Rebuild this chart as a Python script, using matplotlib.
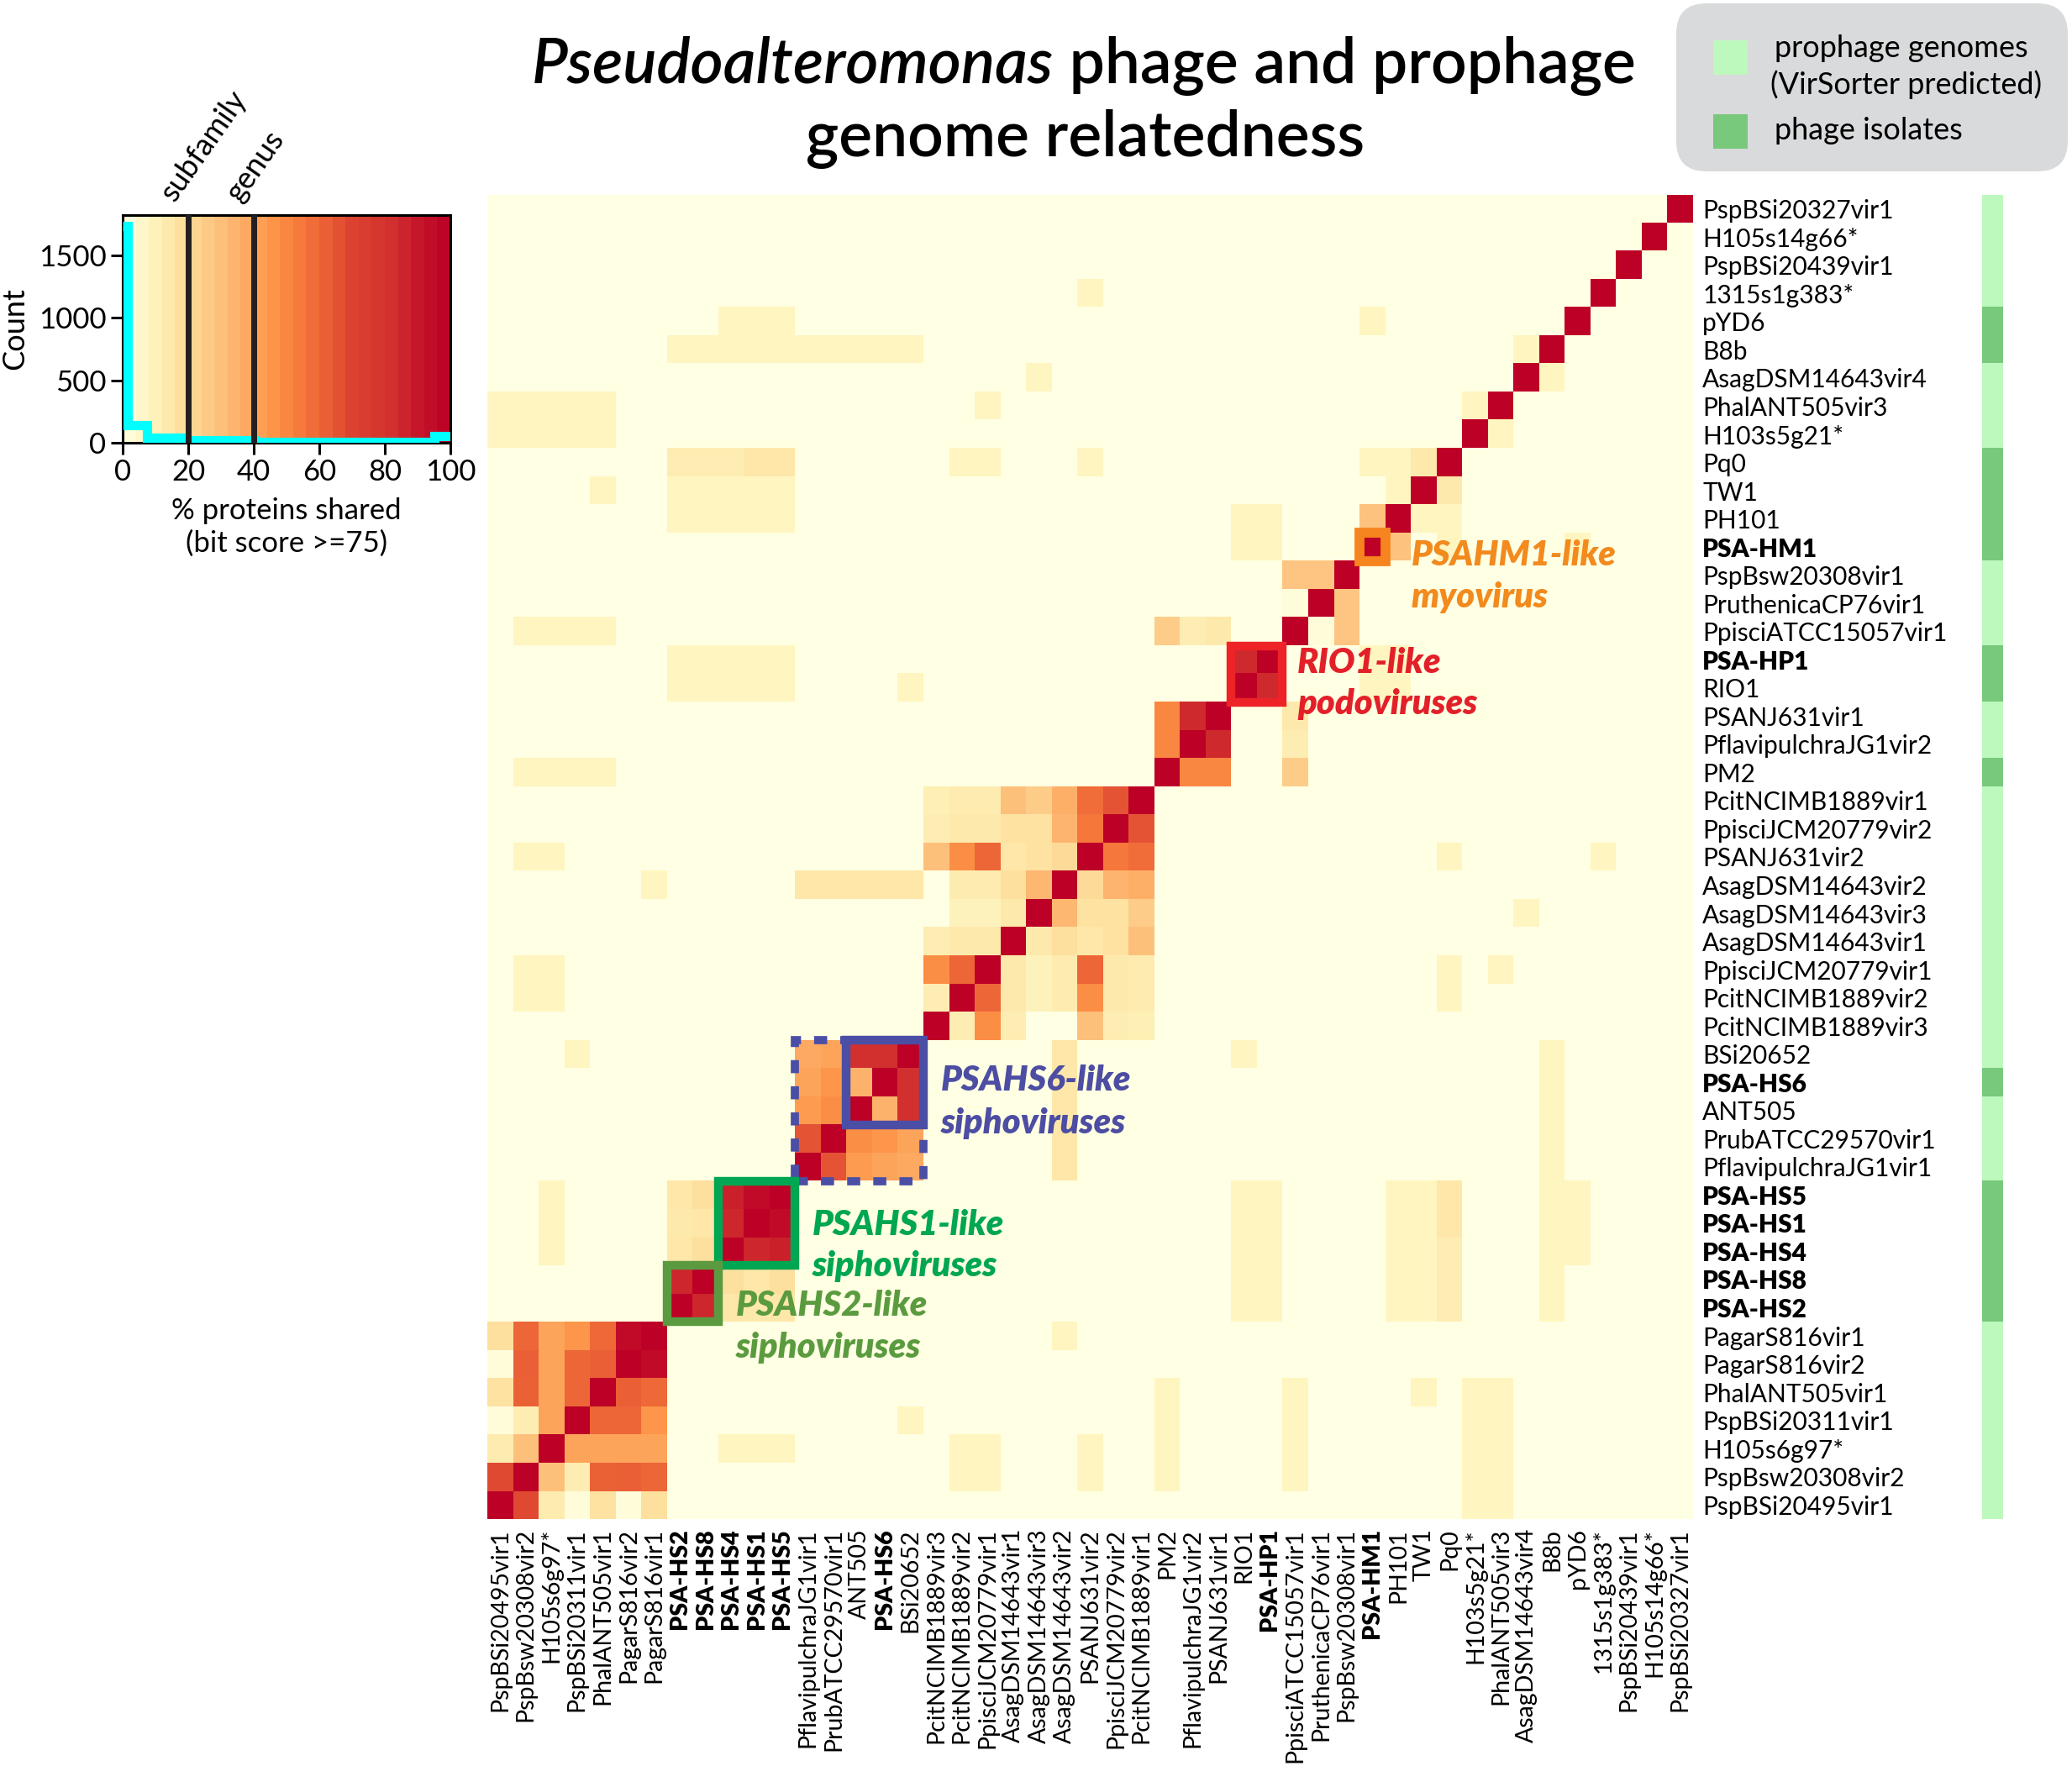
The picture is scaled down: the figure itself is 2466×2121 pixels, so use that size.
import numpy as np
import matplotlib
matplotlib.use("Agg")
import matplotlib.pyplot as plt
from matplotlib.colors import LinearSegmentedColormap, ListedColormap
from matplotlib.patches import Rectangle, FancyBboxPatch

plt.rcParams['font.family'] = ['Lato', 'DejaVu Sans']

# ---------------- data ----------------
# genome order = column order (left -> right) = row order (bottom -> top)
genomes = [
    "PspBSi20495vir1", "PspBsw20308vir2", "H105s6g97*", "PspBSi20311vir1",
    "PhalANT505vir1", "PagarS816vir2", "PagarS816vir1", "PSA-HS2", "PSA-HS8",
    "PSA-HS4", "PSA-HS1", "PSA-HS5", "PflavipulchraJG1vir1", "PrubATCC29570vir1",
    "ANT505", "PSA-HS6", "BSi20652", "PcitNCIMB1889vir3", "PcitNCIMB1889vir2",
    "PpisciJCM20779vir1", "AsagDSM14643vir1", "AsagDSM14643vir3",
    "AsagDSM14643vir2", "PSANJ631vir2", "PpisciJCM20779vir2", "PcitNCIMB1889vir1",
    "PM2", "PflavipulchraJG1vir2", "PSANJ631vir1", "RIO1", "PSA-HP1",
    "PpisciATCC15057vir1", "PruthenicaCP76vir1", "PspBsw20308vir1", "PSA-HM1",
    "PH101", "TW1", "Pq0", "H103s5g21*", "PhalANT505vir3", "AsagDSM14643vir4",
    "B8b", "pYD6", "1315s1g383*", "PspBSi20439vir1", "H105s14g66*",
    "PspBSi20327vir1",
]
bold_genomes = ["PSA-HS2", "PSA-HS8", "PSA-HS4", "PSA-HS1", "PSA-HS5",
                "PSA-HS6", "PSA-HP1", "PSA-HM1"]
isolate_genomes = ["PSA-HS2", "PSA-HS8", "PSA-HS4", "PSA-HS1", "PSA-HS5",
                   "PSA-HS6", "PM2", "RIO1", "PSA-HP1", "PSA-HM1", "PH101",
                   "TW1", "Pq0", "B8b", "pYD6"]

# % proteins shared between genome pairs (indices into `genomes`)
prophage_pairs_a = [  # PspBSi20495vir1 ... PagarS816vir1 cluster
    (0, 1, 68), (0, 2, 13), (0, 3, 2), (0, 4, 17), (0, 5, 2), (0, 6, 18),
    (1, 2, 30), (1, 3, 12), (1, 4, 61), (1, 5, 62), (1, 6, 60),
    (2, 3, 40), (2, 4, 40), (2, 5, 40), (2, 6, 40),
    (3, 4, 60), (3, 5, 60), (3, 6, 45),
    (4, 5, 62), (4, 6, 59), (5, 6, 95),
]
hs1_hs2_pairs = [
    (7, 8, 85), (7, 9, 15), (7, 10, 14), (7, 11, 15), (8, 9, 18), (8, 10, 15),
    (8, 11, 18), (9, 10, 85), (9, 11, 87), (10, 11, 95),
]
hs6_pairs = [
    (12, 13, 65), (12, 14, 43), (12, 15, 40), (12, 16, 38), (13, 14, 48),
    (13, 15, 45), (13, 16, 40), (14, 15, 35), (14, 16, 82), (15, 16, 82),
]
prophage_pairs_b = [  # PcitNCIMB1889vir3 ... PcitNCIMB1889vir1 cluster
    (17, 18, 12), (17, 19, 48), (17, 20, 12), (17, 21, 0), (17, 22, 0),
    (17, 23, 30), (17, 24, 12), (17, 25, 11),
    (18, 19, 60), (18, 20, 14), (18, 21, 9), (18, 22, 13), (18, 23, 48),
    (18, 24, 14), (18, 25, 13),
    (19, 20, 14), (19, 21, 9), (19, 22, 13), (19, 23, 60), (19, 24, 14),
    (19, 25, 13),
    (20, 21, 14), (20, 22, 18), (20, 23, 15), (20, 24, 17), (20, 25, 30),
    (21, 22, 33), (21, 23, 17), (21, 24, 17), (21, 25, 25),
    (22, 23, 20), (22, 24, 34), (22, 25, 36),
    (23, 24, 55), (23, 25, 58), (24, 25, 65),
]
podo_myo_pairs = [
    (26, 27, 50), (26, 28, 50), (27, 28, 84), (29, 30, 84),
    (26, 31, 25), (27, 31, 12), (28, 31, 14),
    (31, 32, 2), (31, 33, 28), (32, 33, 28),
    (34, 35, 29), (36, 37, 14),
    (7, 37, 12), (8, 37, 12), (9, 37, 12), (10, 37, 15), (11, 37, 15),
    (12, 22, 15), (13, 22, 15), (14, 22, 15), (15, 22, 15), (16, 22, 15),
]
# weak links (~8 % shared): genome -> partner genomes
weak_links = {
    38: [0, 1, 2, 3, 4, 39],
    39: [0, 1, 2, 3, 4, 19],
    41: [7, 8, 9, 10, 11, 12, 13, 14, 15, 16, 40],
    42: [9, 10, 11, 34],
    40: [21],
    43: [23],
    37: [18, 19, 23, 34, 35],
    36: [4, 7, 8, 9, 10, 11, 35],
    35: [7, 8, 9, 10, 11, 29, 30],
    34: [29, 30],
    30: [7, 8, 9, 10, 11],
    29: [7, 8, 9, 10, 11, 16],
    31: [1, 2, 3, 4],
    26: [1, 2, 3, 4],
    23: [1, 2],
    19: [1, 2],
    18: [1, 2],
    22: [6],
    16: [3],
    2: [9, 10, 11],
}
weak_value = 8

# inset histogram of pairwise values
hist_edges = [0, 1.5, 7.5, 18, 40, 95, 100]
hist_counts = [1730, 140, 40, 20, 10, 52]
thresholds = [20, 40]
threshold_names = ["subfamily", "genus"]

# ---------------- matrix ----------------
n = len(genomes)
S = np.zeros((n, n))
np.fill_diagonal(S, 100)
for grp in (prophage_pairs_a, hs1_hs2_pairs, hs6_pairs, prophage_pairs_b, podo_myo_pairs):
    for a, b, v in grp:
        S[a, b] = S[b, a] = v
for a, partners in weak_links.items():
    for b in partners:
        S[a, b] = S[b, a] = weak_value

cmap = LinearSegmentedColormap.from_list("share", [
    (0.00, '#ffffe3'), (0.08, '#fff5c0'), (0.15, '#fee7a8'), (0.22, '#fdd592'),
    (0.30, '#fdc07b'), (0.38, '#fdaa62'), (0.46, '#fd9448'), (0.54, '#f77b3c'),
    (0.62, '#ea5f36'), (0.70, '#dc4431'), (0.82, '#d2302e'), (0.92, '#c4122a'),
    (1.00, '#bd0026')])

# ---------------- figure ----------------
W, H = 2466, 2121
fig = plt.figure(figsize=(W / 100, H / 100), dpi=100)
fig.patch.set_facecolor('white')

def fx(px):
    return px / W

def fy(py):
    return 1 - py / H

L, R, T, B = 580, 2015, 232, 1808
ax = fig.add_axes([fx(L), fy(B), (R - L) / W, (B - T) / H])
ax.imshow(S, origin='lower', cmap=cmap, vmin=0, vmax=100, aspect='auto',
          interpolation='nearest', extent=(-0.5, n - 0.5, -0.5, n - 0.5))
ax.set_xlim(-0.5, n - 0.5)
ax.set_ylim(-0.5, n - 0.5)
for s in ax.spines.values():
    s.set_visible(False)
ax.set_xticks(range(n))
ax.set_xticklabels(genomes, rotation=90, fontsize=20.5)
ax.yaxis.tick_right()
ax.set_yticks(range(n))
ax.set_yticklabels(genomes, fontsize=21.5)
ax.tick_params(length=0, pad=8)
for lbl in ax.get_xticklabels() + ax.get_yticklabels():
    if lbl.get_text() in bold_genomes:
        lbl.set_fontweight('heavy')

# cluster boxes
def box(i0, size, color, lw=7.5, ls='-'):
    ax.add_patch(Rectangle((i0 - 0.5, i0 - 0.5), size, size, fill=False,
                           edgecolor=color, lw=lw, linestyle=ls, zorder=5,
                           clip_on=False))

box(genomes.index("PSA-HM1"), 1, '#f7851f', lw=8.5)
box(genomes.index("RIO1"), 2, '#ee2328')
box(genomes.index("PflavipulchraJG1vir1"), 5, '#4b4ea5', lw=7, ls=(0, (1.6, 1.6)))
box(genomes.index("ANT505"), 3, '#4b4ea5')
box(genomes.index("PSA-HS4"), 3, '#00a651')
box(genomes.index("PSA-HS2"), 2, '#5b9a41')

def px2data(X, Y):
    return (X - L) / ((R - L) / n) - 0.5, n - 0.5 - (Y - T) / ((B - T) / n)

annos = [
    ("PSAHM1-like", "myovirus", 1680, 661, 711, '#f28a1e'),
    ("RIO1-like", "podoviruses", 1544, 789, 838, '#e3202a'),
    ("PSAHS6-like", "siphoviruses", 1120, 1286, 1337, '#4c4da3'),
    ("PSAHS1-like", "siphoviruses", 967, 1458, 1507, '#00a651'),
    ("PSAHS2-like", "siphoviruses", 876, 1554, 1604, '#5b9b3f'),
]
for l1, l2, X, Y1, Y2, c in annos:
    for txt, Y in ((l1, Y1), (l2, Y2)):
        xd, yd = px2data(X, Y)
        ax.text(xd, yd, txt, color=c, fontsize=30, fontweight='heavy',
                style='italic', ha='left', va='center', zorder=6)

# isolate strip
ax_s = fig.add_axes([fx(2359), fy(B), 25 / W, (B - T) / H])
flags = np.array([[1 if g in isolate_genomes else 0] for g in genomes])
ax_s.imshow(flags, origin='lower', cmap=ListedColormap(['#bdf8bd', '#78c97b']),
            vmin=0, vmax=1, aspect='auto', interpolation='nearest')
ax_s.axis('off')

# legend
ax_l = fig.add_axes([fx(1995), fy(204), 466 / W, 200 / H])
ax_l.set_xlim(0, 466)
ax_l.set_ylim(200, 0)
ax_l.axis('off')
ax_l.add_patch(FancyBboxPatch((0, 0), 466, 200,
                              boxstyle="round,pad=0,rounding_size=36",
                              facecolor='#d9dadb', edgecolor='none'))
ax_l.add_patch(Rectangle((44, 44), 41, 41, facecolor='#bdf8bd', edgecolor='none'))
ax_l.add_patch(Rectangle((44, 132), 41, 41, facecolor='#78c97b', edgecolor='none'))
ax_l.text(117, 54, "prophage genomes", fontsize=26, va='center', ha='left')
ax_l.text(112, 97, "(VirSorter predicted)", fontsize=26, va='center', ha='left')
ax_l.text(117, 152, "phage isolates", fontsize=26, va='center', ha='left')

# title
renderer = fig.canvas.get_renderer()
tsize = 54
ta = fig.text(0, fy(99), "Pseudoalteromonas", style='italic', weight='semibold',
              fontsize=tsize, va='baseline', ha='left')
tb = fig.text(0, fy(99), " phage and prophage", weight='semibold',
              fontsize=tsize, va='baseline', ha='left')
wa = ta.get_window_extent(renderer).width
wb = tb.get_window_extent(renderer).width
x0 = 1290 - (wa + wb) / 2
ta.set_x(x0 / W)
tb.set_x((x0 + wa) / W)
fig.text(fx(1292), fy(186), "genome relatedness", weight='semibold',
         fontsize=tsize, va='baseline', ha='center')

# inset histogram
ax_in = fig.add_axes([fx(146), fy(527), 390 / W, 271 / H])
ymax = 1820
band = np.arange(2, 100, 4)[None, :]
ax_in.imshow(band, cmap=cmap, vmin=0, vmax=100, aspect='auto',
             extent=(0, 100, 0, ymax), interpolation='nearest')
ax_in.stairs(hist_counts, hist_edges, color='#00ffff', lw=8, baseline=None,
             zorder=3)
for t, name in zip(thresholds, threshold_names):
    ax_in.axvline(t, color='#231f20', lw=5, zorder=4)
    ax_in.annotate(name, (t, ymax), xytext=(-8, 8), textcoords='offset points',
                   rotation=55, rotation_mode='anchor', ha='left', va='bottom',
                   fontsize=26, annotation_clip=False)
ax_in.set_xlim(0, 100)
ax_in.set_ylim(0, ymax)
ax_in.set_xticks([0, 20, 40, 60, 80, 100])
ax_in.set_yticks([0, 500, 1000, 1500])
ax_in.tick_params(labelsize=25, length=10, width=2.2, pad=4)
for s in ax_in.spines.values():
    s.set_linewidth(2.2)
ax_in.set_ylabel("Count", fontsize=26, labelpad=8)
ax_in.set_xlabel("% proteins shared\n(bit score >=75)", fontsize=25,
                 labelpad=10, linespacing=1.25)

fig.savefig("out.png", dpi=100)
